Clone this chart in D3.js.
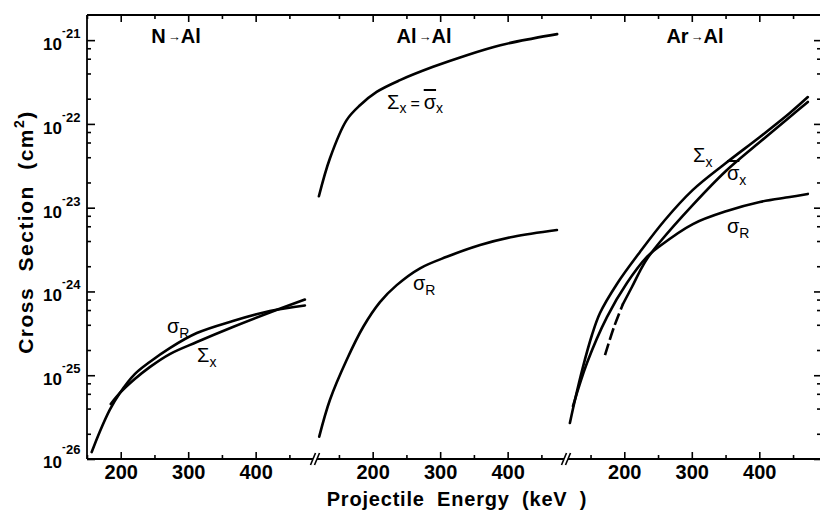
<!DOCTYPE html>
<html>
<head>
<meta charset="utf-8">
<script src="https://cdn.jsdelivr.net/npm/d3@7"></script>
<style>
  body { margin: 0; background: #fff; }
  svg { display: block; font-family: "Liberation Sans", Arial, sans-serif; }
  .bar { text-decoration: overline; }
</style>
</head>
<body>
<svg width="820" height="510"></svg>
<script>
// energy in keV, cross section in cm^2
var panelTitles = ["N", "Al", "Ar"];
var panelDomains = [[150, 485], [117.5, 483.5], [116.6, 491.4]];
var majorTicks = [200, 300, 400];
var minorTicks = [150, 250, 350, 450];
var decades = [1e-26, 1e-25, 1e-24, 1e-23, 1e-22, 1e-21];
var decadeLabels = ["26", "25", "24", "23", "22", "21"];
var minorMultiples = [2, 4, 6, 8];

// N -> Al
var nSigmaR = [[157, 1.21e-26], [168.8, 2.1e-26], [183.7, 3.85e-26], [198.5, 6.1e-26], [220.8, 1.03e-25],
               [243, 1.44e-25], [272.7, 2.11e-25], [312.8, 3.19e-25], [366.2, 4.44e-25], [421, 5.83e-25], [473, 6.8e-25]];
var nSigmaX = [[185.2, 4.53e-26], [198.5, 6.1e-26], [220.8, 9.0e-26], [243, 1.25e-25], [272.7, 1.79e-25],
               [312.8, 2.49e-25], [366.2, 3.76e-25], [421, 5.6e-25], [473, 8.0e-25]];
// Al -> Al
var alSigmaX = [[120.3, 1.37e-23], [136.6, 3.87e-23], [161.4, 1.11e-22], [181.2, 1.67e-22], [205.9, 2.41e-22],
                [240.5, 3.33e-22], [289.5, 4.8e-22], [339.5, 6.62e-22], [389.2, 8.7e-22], [438.2, 1.05e-21], [473.4, 1.18e-21]];
var alSigmaR = [[120.8, 1.85e-26], [136.6, 5.06e-26], [161.4, 1.52e-25], [186.1, 3.79e-25], [210.8, 7.46e-25],
                [235.6, 1.19e-24], [270.2, 1.89e-24], [309.8, 2.59e-24], [359.2, 3.58e-24], [408.6, 4.5e-24], [473, 5.41e-24]];
// Ar -> Al
var arSigmaX = [[119.4, 2.69e-26], [126.9, 5.06e-26], [138.7, 1.25e-25], [152.1, 3.02e-25], [164, 5.53e-25],
                [189.1, 1.23e-24], [223.2, 2.96e-24], [260.2, 7.13e-24], [301.6, 1.63e-23], [350.5, 3.41e-23],
                [400.8, 6.98e-23], [445.2, 1.35e-22], [471.9, 2.09e-22]];
var arSigmaXbarDashed = [[171.4, 1.74e-25], [184.7, 3.76e-25], [198, 7.08e-25]];
var arSigmaXbar = [[198, 7.08e-25], [211.3, 1.13e-24], [223.2, 1.75e-24], [233.5, 2.44e-24], [252.8, 3.89e-24],
                   [301.6, 1.08e-23], [350.5, 2.74e-23], [400.8, 6.08e-23], [445.2, 1.21e-22], [471.9, 1.83e-22]];
var arSigmaR = [[124, 4.29e-26], [144.7, 1.4e-25], [174.3, 4.95e-25], [203.9, 1.26e-24], [233.5, 2.58e-24],
                [252.8, 3.49e-24], [301.6, 6.38e-24], [352, 9.13e-24], [400.8, 1.17e-23], [445.2, 1.34e-23], [471.9, 1.46e-23]];

var curves = [
  {panel: 0, data: nSigmaR}, {panel: 0, data: nSigmaX},
  {panel: 1, data: alSigmaX}, {panel: 1, data: alSigmaR},
  {panel: 2, data: arSigmaX}, {panel: 2, data: arSigmaXbarDashed, dashed: true},
  {panel: 2, data: arSigmaXbar}, {panel: 2, data: arSigmaR}
];

var plotTop = 15, plotBottom = 459, plotLeft = 87, plotRight = 821;
var panelRanges = [[87, 313], [317, 564], [568, 821]];

var svg = d3.select("svg");

var y = d3.scaleLog().domain([1e-26, Math.pow(10, -20.70)]).range([plotBottom, plotTop]);
var xs = panelDomains.map(function(dom, i) {
  return d3.scaleLinear().domain(dom).range(panelRanges[i]);
});

var minorY = [];
decades.forEach(function(d) {
  minorMultiples.forEach(function(m) {
    if (d * m < y.domain()[1]) minorY.push(d * m);
  });
});

function clean(g) {
  g.select(".domain").remove();
  g.selectAll(".tick line").attr("stroke", "#000").attr("stroke-width", 1.6);
}

// frame
svg.append("line").attr("x1", plotLeft).attr("x2", plotLeft).attr("y1", plotTop).attr("y2", plotBottom)
  .attr("stroke", "#000").attr("stroke-width", 1.8);
svg.append("line").attr("x1", plotLeft).attr("x2", plotRight).attr("y1", plotTop).attr("y2", plotTop)
  .attr("stroke", "#000").attr("stroke-width", 1.8);
svg.append("line").attr("x1", plotRight).attr("x2", plotRight).attr("y1", plotTop).attr("y2", plotBottom)
  .attr("stroke", "#000").attr("stroke-width", 1.8);

// y axes
svg.append("g").attr("transform", "translate(" + plotLeft + ",0)")
  .call(d3.axisLeft(y).tickValues(decades).tickSizeInner(-8).tickSizeOuter(0).tickFormat(""))
  .call(clean);
svg.append("g").attr("transform", "translate(" + plotLeft + ",0)")
  .call(d3.axisLeft(y).tickValues(minorY).tickSizeInner(-4).tickSizeOuter(0).tickFormat(""))
  .call(clean);
svg.append("g").attr("transform", "translate(" + plotRight + ",0)")
  .call(d3.axisRight(y).tickValues(decades).tickSizeInner(-7).tickSizeOuter(0).tickFormat(""))
  .call(clean);
svg.append("g").attr("transform", "translate(" + plotRight + ",0)")
  .call(d3.axisRight(y).tickValues(minorY).tickSizeInner(-4).tickSizeOuter(0).tickFormat(""))
  .call(clean);

// y tick labels 10^-n
var ylab = svg.append("g").selectAll("g").data(decades).enter().append("g")
  .attr("transform", function(d) { return "translate(62," + y(d) + ")"; });
ylab.append("text").attr("text-anchor", "end").attr("y", function(d, i) { return i === 0 ? 9 : 10; })
  .attr("font-size", 17).attr("font-weight", "bold").text("10");
ylab.append("text").attr("x", 0).attr("y", function(d, i) { return i === 0 ? -9 : -6; })
  .attr("font-size", 11).attr("font-weight", "bold").text("-");
ylab.append("text").attr("x", 4).attr("y", function(d, i) { return i === 0 ? -5 : -2; })
  .attr("font-size", 13).attr("font-weight", "bold")
  .text(function(d, i) { return decadeLabels[i]; });

// x axes per panel
xs.forEach(function(x, i) {
  svg.append("g").attr("transform", "translate(0," + plotBottom + ")")
    .call(d3.axisBottom(x).tickValues(majorTicks).tickSizeInner(-7).tickSizeOuter(0).tickPadding(6))
    .call(clean)
    .call(function(g) {
      g.selectAll("text").attr("font-size", 20).attr("font-weight", "bold")
        .attr("font-family", "Liberation Sans, Arial, sans-serif").attr("fill", "#000");
    });
  svg.append("g").attr("transform", "translate(0," + plotBottom + ")")
    .call(d3.axisBottom(x).tickValues(minorTicks).tickSizeInner(-4).tickSizeOuter(0).tickFormat(""))
    .call(clean);
  svg.append("g").attr("transform", "translate(0," + plotTop + ")")
    .call(d3.axisTop(x).tickValues(majorTicks).tickSizeInner(-7).tickSizeOuter(0).tickFormat(""))
    .call(clean);
  svg.append("g").attr("transform", "translate(0," + plotTop + ")")
    .call(d3.axisTop(x).tickValues(minorTicks).tickSizeInner(-4).tickSizeOuter(0).tickFormat(""))
    .call(clean);

  var r = x.range();
  svg.append("line").attr("x1", r[0]).attr("x2", r[1]).attr("y1", plotBottom).attr("y2", plotBottom)
    .attr("stroke", "#000").attr("stroke-width", 1.8);
  // break marks
  r.forEach(function(e, j) {
    if ((i === 0 && j === 0) || (i === 2 && j === 1)) return;
    svg.append("line").attr("x1", e - 2.5).attr("y1", plotBottom + 6).attr("x2", e + 2.5).attr("y2", plotBottom - 6)
      .attr("stroke", "#000").attr("stroke-width", 1.6);
  });

  // panel title
  var t = svg.append("text").attr("x", [176, 424, 695][i]).attr("y", 43)
    .attr("text-anchor", "middle").attr("font-size", 20).attr("font-weight", "bold");
  t.append("tspan").text(panelTitles[i]);
  t.append("tspan").attr("font-size", 13).attr("dy", -2).attr("dx", 2).text("\u2192");
  t.append("tspan").attr("dy", 2).text("Al");
});

// curves
curves.forEach(function(c) {
  var x = xs[c.panel];
  var line = d3.line()
    .x(function(d) { return x(d[0]); })
    .y(function(d) { return y(d[1]); })
    .curve(d3.curveCatmullRom.alpha(0.5));
  svg.append("path").datum(c.data)
    .attr("d", line)
    .attr("fill", "none")
    .attr("stroke", "#000")
    .attr("stroke-width", 2.6)
    .attr("stroke-linecap", c.dashed ? "butt" : "round")
    .attr("stroke-dasharray", c.dashed ? "12,4" : null);
});

// curve labels
function label(x, yy, main, sub, bar) {
  var t = svg.append("text").attr("x", x).attr("y", yy).attr("font-size", 20);
  t.append("tspan").attr("class", bar ? "bar" : null).text(main);
  t.append("tspan").attr("font-size", 14).attr("dy", 5).text(sub);
  return t;
}
label(167, 333, "\u03c3", "R");
label(197, 362, "\u03a3", "x");
var eq = svg.append("text").attr("x", 387).attr("y", 109).attr("font-size", 20);
eq.append("tspan").text("\u03a3");
eq.append("tspan").attr("font-size", 14).attr("dy", 4).text("x");
eq.append("tspan").attr("dy", -4).attr("dx", 4).attr("font-size", 16).text("=");
eq.append("tspan").attr("dx", 4).attr("class", "bar").text("\u03c3");
eq.append("tspan").attr("font-size", 14).attr("dy", 4).text("x");
label(413, 290, "\u03c3", "R");
label(693, 162, "\u03a3", "x");
label(727, 180, "\u03c3", "x", true);
label(727, 233, "\u03c3", "R");

// axis titles
var yt = svg.append("text").attr("transform", "translate(33,232) rotate(-90)")
  .attr("text-anchor", "middle").attr("font-size", 21).attr("font-weight", "bold")
  .attr("letter-spacing", 1.5).attr("word-spacing", 8);
yt.append("tspan").text("Cross Section (cm");
yt.append("tspan").attr("font-size", 14).attr("dy", -9).text("2");
yt.append("tspan").attr("dy", 9).text(")");

svg.append("text").attr("x", 457).attr("y", 506).attr("text-anchor", "middle")
  .attr("font-size", 20).attr("font-weight", "bold").attr("letter-spacing", 0.8).attr("word-spacing", 6)
  .text("Projectile Energy (keV )");
</script>
</body>
</html>
